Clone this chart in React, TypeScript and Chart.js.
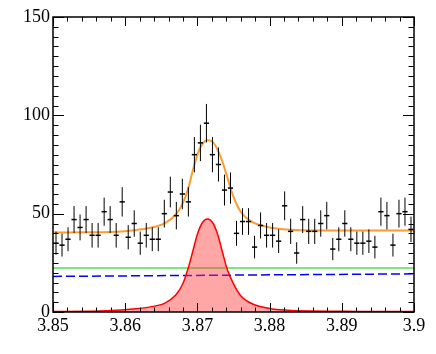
import React, { useEffect, useRef } from 'react';
import { Chart, registerables } from 'chart.js';

Chart.register(...registerables);

// Histogram binning (60 bins over 3.85 - 3.90)
const binStart = 3.85;
const binWidth = 0.05 / 60;
const counts = [35, 34, 37, 47, 43, 47, 39, 39, 51, 47, 39, 56, 38, 45, 35, 39, 37, 37, 50, 61,
  49, 60, 56, 80, 86, 96, 80, 75, 62, 63, 40, 46, 46, 33, 44, 39, 39, 36, 54, 41,
  30, 47, 41, 41, 45, 49, 32, 37, 45, 37, 35, 35, 36, 33, 51, 49, 34, 50, 51, 42];

// Fit curves
const curveX = [3.850, 3.855, 3.858, 3.861, 3.8635, 3.8655, 3.867, 3.868, 3.8687, 3.8693, 3.870, 3.8707,
  3.8714, 3.8721, 3.8728, 3.8735, 3.8741, 3.875, 3.876, 3.8775, 3.880, 3.8825, 3.886, 3.892, 3.900];
const signalY = [0.2, 0.4, 0.7, 1.5, 2.6, 4.5, 8.6, 14.5, 22, 30, 39.5, 45.5,
  47.3, 45.5, 39.5, 30, 22, 14.3, 8.3, 4.3, 1.8, 0.9, 0.5, 0.3, 0.2];
const totalY = [40.4, 40.5, 40.7, 41.5, 42.8, 45.2, 49.5, 55.5, 62.5, 71, 80, 85.5,
  87.3, 86.5, 82.5, 76, 69, 58.5, 51, 46, 43, 41.9, 41.4, 41.4, 41.5];
const bgX = [3.85, 3.9];
const greenY = [22.4, 22.4];
const blueY = [18.1, 19.4];

const xTickValues = [3.85, 3.86, 3.87, 3.88, 3.89, 3.9];
const xTickLabels = ['3.85', '3.86', '3.87', '3.88', '3.89', '3.9'];
const yTickValues = [0, 50, 100, 150];
const yTickLabels = ['0', '50', '100', '150'];

const FONT = { family: '"Liberation Serif", "Times New Roman", serif', size: 18 };

const framePlugin = {
  id: 'frameTicks',
  afterDatasetsDraw(chart: any) {
    const { ctx, scales } = chart;
    const xs = scales.x, ys = scales.y;
    ctx.save();
    ctx.strokeStyle = '#000';
    ctx.lineWidth = 1;
    counts.forEach((c, i) => {
      const xc = binStart + (i + 0.5) * binWidth;
      const e = Math.sqrt(c);
      const px = xs.getPixelForValue(xc);
      ctx.beginPath();
      ctx.moveTo(px, ys.getPixelForValue(c + e));
      ctx.lineTo(px, ys.getPixelForValue(c - e));
      ctx.stroke();
    });
    ctx.restore();
  },
  afterDraw(chart: any) {
    const { ctx, chartArea, scales } = chart;
    const { left, right, top, bottom } = chartArea;
    const xs = scales.x, ys = scales.y;
    ctx.save();
    ctx.strokeStyle = '#000';
    ctx.lineWidth = 1;
    // x ticks (minor every 0.002, major every 0.01), bottom & top
    for (let i = 0; i <= 25; i++) {
      const v = 3.85 + i * 0.002;
      const px = Math.round(xs.getPixelForValue(v)) + 0.5;
      const len = i % 5 === 0 ? 9 : 4.5;
      ctx.beginPath();
      ctx.moveTo(px, bottom); ctx.lineTo(px, bottom - len);
      ctx.moveTo(px, top); ctx.lineTo(px, top + len);
      ctx.stroke();
    }
    // y ticks (minor every 5, major every 50), left & right
    for (let i = 0; i <= 30; i++) {
      const v = i * 5;
      const py = Math.round(ys.getPixelForValue(v)) + 0.5;
      const len = i % 10 === 0 ? 11 : 5.5;
      ctx.beginPath();
      ctx.moveTo(left, py); ctx.lineTo(left + len, py);
      ctx.moveTo(right, py); ctx.lineTo(right - len, py);
      ctx.stroke();
    }
    ctx.lineWidth = 1.5;
    ctx.strokeRect(left, top, right - left, bottom - top);
    ctx.restore();
  },
};

export default function App() {
  const ref = useRef<HTMLCanvasElement>(null);
  useEffect(() => {
    if (!ref.current) return;
    const points = counts.map((c, i) => ({ x: binStart + (i + 0.5) * binWidth, y: c }));
    const chart = new Chart(ref.current, {
      type: 'scatter',
      data: {
        datasets: [
          {
            label: 'data', data: points, order: 0,
            pointStyle: 'line', pointRadius: 2.6, pointBorderWidth: 1.5,
            borderColor: '#000', backgroundColor: '#000', showLine: false,
          },
          {
            label: 'total', data: curveX.map((x, i) => ({ x, y: totalY[i] })), order: 1,
            showLine: true, pointRadius: 0, borderColor: '#ff9a2e', borderWidth: 2,
            cubicInterpolationMode: 'monotone', fill: false,
          },
          {
            label: 'signal', data: curveX.map((x, i) => ({ x, y: signalY[i] })), order: 2,
            showLine: true, pointRadius: 0, borderColor: '#ff0000', borderWidth: 1.5,
            backgroundColor: 'rgba(255,60,60,0.45)', fill: 'origin',
            cubicInterpolationMode: 'monotone',
          },
          {
            label: 'bg2', data: bgX.map((x, i) => ({ x, y: blueY[i] })), order: 3,
            showLine: true, pointRadius: 0, borderColor: '#0000ff', borderWidth: 1.5,
            borderDash: [9, 4], fill: false,
          },
          {
            label: 'bg1', data: bgX.map((x, i) => ({ x, y: greenY[i] })), order: 4,
            showLine: true, pointRadius: 0, borderColor: '#55dd55', borderWidth: 1.5, fill: false,
          },
        ],
      },
      options: {
        animation: false,
        responsive: false,
        maintainAspectRatio: false,
        layout: { padding: { left: 0, top: 17, right: 22, bottom: 0 } },
        plugins: { legend: { display: false }, tooltip: { enabled: false } },
        scales: {
          x: {
            type: 'linear', min: 3.85, max: 3.9,
            grid: { display: false, drawTicks: false },
            border: { display: false },
            afterBuildTicks: (s: any) => { s.ticks = xTickValues.map((v) => ({ value: v })); },
            afterFit: (s: any) => { s.height = 42; },
            ticks: {
              color: '#000', font: FONT, padding: 3, maxRotation: 0, autoSkip: false,
              callback: (_v: any, i: number) => xTickLabels[i],
            },
          },
          y: {
            type: 'linear', min: 0, max: 150,
            grid: { display: false, drawTicks: false },
            border: { display: false },
            afterBuildTicks: (s: any) => { s.ticks = yTickValues.map((v) => ({ value: v })); },
            afterFit: (s: any) => { s.width = 53; },
            ticks: {
              color: '#000', font: FONT, padding: 3, autoSkip: false,
              callback: (_v: any, i: number) => yTickLabels[i],
            },
          },
        },
      },
      plugins: [framePlugin],
    } as any);
    return () => chart.destroy();
  }, []);
  return (
    <div style={{ position: 'fixed', left: 0, top: 0, width: 436, height: 354, background: '#fff' }}>
      <canvas ref={ref} width={436} height={354} style={{ width: 436, height: 354 }} />
    </div>
  );
}
